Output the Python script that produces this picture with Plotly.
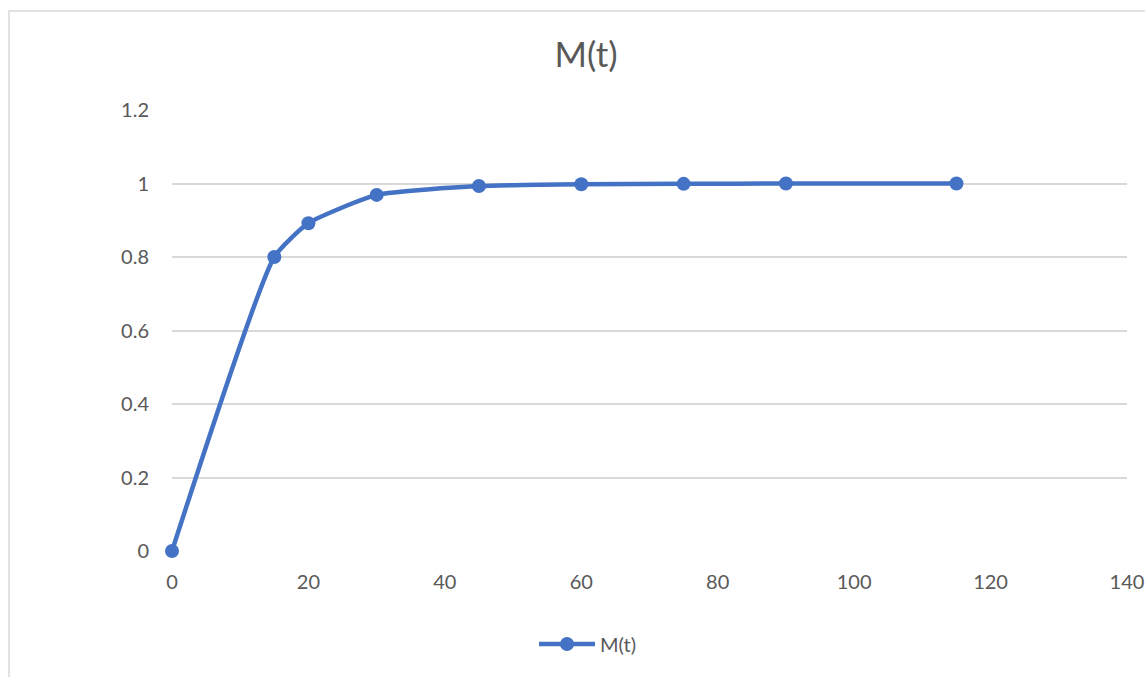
import plotly.graph_objects as go

t_values = [0, 15, 20, 30, 45, 60, 75, 90, 115]
m_values = [0, 0.8, 0.892, 0.969, 0.993, 0.998, 0.999, 1.0, 1.0]
x_ticks = [0, 20, 40, 60, 80, 100, 120, 140]
y_ticks = [0, 0.2, 0.4, 0.6, 0.8, 1.0, 1.2]
y_tick_text = ["0", "0.2", "0.4", "0.6", "0.8", "1", "1.2"]

W, H = 1145, 677
L, R, T, B = 172, 1127, 110, 551
FONT = "Lato, 'Open Sans', sans-serif"
GREY = "#595959"
BLUE = "#4472C4"

fig = go.Figure()
fig.add_trace(go.Scatter(
    x=t_values, y=m_values, name="M(t)", mode="lines+markers",
    line=dict(color=BLUE, width=4.5, shape="spline", smoothing=0.5),
    marker=dict(color=BLUE, size=14),
    cliponaxis=False,
))

fig.update_layout(
    width=W, height=H,
    margin=dict(l=L, r=W - R, t=T, b=H - B, autoexpand=False),
    paper_bgcolor="white", plot_bgcolor="white",
    font=dict(family=FONT, color=GREY, size=20),
    title=dict(text="M(t)", x=586 / W, xref="container", xanchor="center",
               y=1 - 55 / H, yref="container", yanchor="middle",
               font=dict(size=35, color=GREY, family=FONT)),
    showlegend=True,
    legend=dict(orientation="h", xref="container", yref="container",
                x=588 / W, xanchor="center", y=1 - 644 / H, yanchor="middle",
                font=dict(size=20, color=GREY), itemwidth=56,
                bgcolor="rgba(0,0,0,0)"),
    xaxis=dict(range=[0, 140], tickvals=x_ticks, showgrid=False, zeroline=False,
               showline=False, ticks="", ticklabelstandoff=17, automargin=False,
               tickfont=dict(size=20, color=GREY)),
    yaxis=dict(range=[0, 1.2], tickvals=y_ticks, ticktext=y_tick_text,
               showgrid=True, gridcolor="#D9D9D9", gridwidth=1.8, automargin=False,
               zeroline=False, showline=False, ticks="", ticklabelstandoff=22,
               tickfont=dict(size=20, color=GREY)),
    shapes=[dict(type="rect", xref="paper", yref="paper",
                 x0=(9 - L) / (R - L), x1=1.2,
                 y0=-0.4, y1=(B - 11) / (B - T),
                 line=dict(color="#D9D9D9", width=1.5), layer="below")],
)

fig.write_html("out.html")
